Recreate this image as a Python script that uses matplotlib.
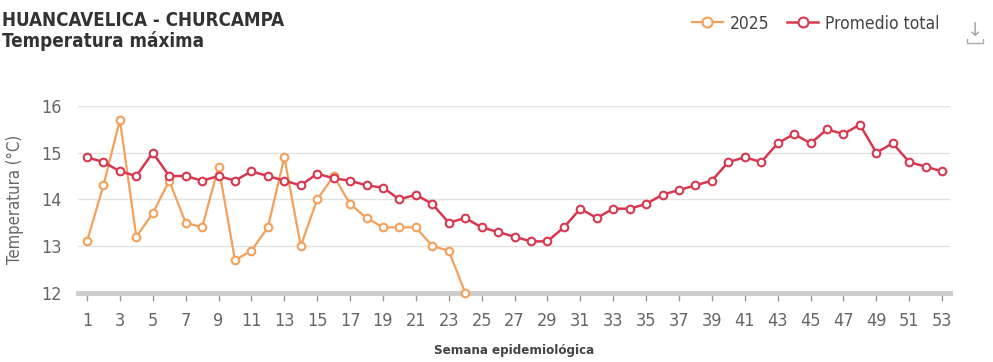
import numpy as np
import matplotlib.pyplot as plt

weeks = list(range(1, 54))
avg_total = [14.9, 14.8, 14.6, 14.5, 15.0, 14.5, 14.5, 14.4, 14.5, 14.4,
             14.6, 14.5, 14.4, 14.3, 14.55, 14.45, 14.4, 14.3, 14.25, 14.0,
             14.1, 13.9, 13.5, 13.6, 13.4, 13.3, 13.2, 13.1, 13.1, 13.4,
             13.8, 13.6, 13.8, 13.8, 13.9, 14.1, 14.2, 14.3, 14.4, 14.8,
             14.9, 14.8, 15.2, 15.4, 15.2, 15.5, 15.4, 15.6, 15.0, 15.2,
             14.8, 14.7, 14.6]
weeks_2025 = list(range(1, 25))
temp_2025 = [13.1, 14.3, 15.7, 13.2, 13.7, 14.4, 13.5, 13.4, 14.7, 12.7,
             12.9, 13.4, 14.9, 13.0, 14.0, 14.5, 13.9, 13.6, 13.4, 13.4,
             13.4, 13.0, 12.9, 12.0]
xticks = list(range(1, 54, 2))
yticks = [12, 13, 14, 15, 16]

orange = '#f4a05a'
red = '#d8384f'
grey = '#666666'
fam = 'DejaVu Sans'
cond = 'condensed'

fig = plt.figure(figsize=(9.93, 3.62), dpi=100)
ax = fig.add_axes([0.0785, 0.1914, 0.8785, 0.5158])

ax.plot(weeks_2025, temp_2025, color=orange, lw=1.6, marker='o', ms=5.5,
        mfc='white', mec=orange, mew=1.5, clip_on=False, zorder=3, label='2025')
ax.plot(weeks, avg_total, color=red, lw=1.8, marker='o', ms=5.5,
        mfc='white', mec=red, mew=1.5, clip_on=False, zorder=4, label='Promedio total')

ax.set_xlim(0.45, 53.5)
ax.set_ylim(12, 16)
ax.set_xticks(xticks)
ax.set_yticks(yticks)
ax.set_xticklabels([str(t) for t in xticks], family=fam, stretch=cond, fontsize=13, color=grey)
ax.set_yticklabels([str(t) for t in yticks], family=fam, stretch=cond, fontsize=13, color=grey)
ax.tick_params(axis='x', length=6, width=1, color='#999999', pad=8)
ax.tick_params(axis='y', length=0, pad=12)
ax.grid(axis='y', color='#e2e2e2', lw=1)
ax.set_axisbelow(True)
for s in ['top', 'right', 'left']:
    ax.spines[s].set_visible(False)
ax.spines['bottom'].set_color('#cccccc')
ax.spines['bottom'].set_linewidth(3.5)

ax.set_ylabel('Temperatura (°C)', family=fam, stretch=cond, fontsize=12, color=grey, labelpad=12)
ax.set_xlabel('Semana epidemiológica', family=fam, stretch=cond, fontsize=9.5, fontweight='bold',
              color='#444444', labelpad=10)

fig.text(0.002, 0.943, 'HUANCAVELICA - CHURCAMPA', family=fam, stretch=cond, fontsize=13.5,
         fontweight='bold', color='#333333', va='center')
fig.text(0.002, 0.888, 'Temperatura máxima', family=fam, stretch=cond, fontsize=13.5,
         fontweight='bold', color='#333333', va='center')

leg = fig.legend(loc='center right', bbox_to_anchor=(0.962, 0.935), ncol=2, frameon=False,
                 prop={'family': fam, 'stretch': cond, 'size': 12.5}, handlelength=1.8,
                 columnspacing=1.0, handletextpad=0.4, markerscale=1.3)
for t in leg.get_texts():
    t.set_color('#444444')

# download icon
fig.text(0.982, 0.915, '↓', fontsize=14, color='#aaaaaa', ha='center', va='center')
fig.add_artist(plt.Line2D([0.974, 0.974, 0.990, 0.990], [0.893, 0.880, 0.880, 0.893],
                          color='#aaaaaa', lw=1, transform=fig.transFigure))

fig.savefig('out.png', dpi=100)
